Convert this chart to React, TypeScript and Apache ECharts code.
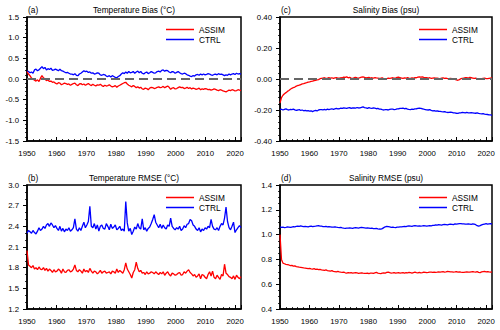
import { useEffect, useRef } from "react";
import * as echarts from "echarts";

const START_YEAR = 1950;
const END_YEAR = 2022;
const FONT = "'Liberation Sans', Arial, Helvetica, sans-serif";

const titles = ["Temperature Bias (°C)", "Temperature RMSE (°C)", "Salinity Bias (psu)", "Salinity RMSE (psu)"];
const panelTags = ["(a)", "(b)", "(c)", "(d)"];
const seriesNames = ["ASSIM", "CTRL"];

// half-yearly values, 1950 .. 2021
const tempBiasAssim = [
  0.18, 0.12, 0.08, 0.02, 0.0, -0.03, -0.05, -0.02, -0.06, 0.02, 0.08, 0.03, 0.0, -0.04, -0.02, -0.06, -0.05, -0.08, -0.07, -0.1,
  -0.12, -0.09, -0.1, -0.14, -0.12, -0.1, -0.11, -0.13, -0.12, -0.15, -0.13, -0.11, -0.1, -0.14, -0.16, -0.12, -0.11, -0.14, -0.12, -0.15,
  -0.13, -0.11, -0.14, -0.16, -0.13, -0.15, -0.17, -0.14, -0.15, -0.13, -0.16, -0.18, -0.15, -0.17, -0.16, -0.14, -0.17, -0.19, -0.18, -0.16,
  -0.2, -0.17, -0.15, -0.13, -0.11, -0.09, -0.08, -0.12, -0.15, -0.17, -0.19, -0.16, -0.18, -0.21, -0.19, -0.22, -0.2, -0.24, -0.25, -0.22,
  -0.23, -0.26, -0.22, -0.2, -0.21, -0.23, -0.22, -0.2, -0.19, -0.21, -0.2, -0.18, -0.21, -0.19, -0.17, -0.2, -0.25, -0.22, -0.21, -0.24,
  -0.23, -0.21, -0.19, -0.21, -0.2, -0.23, -0.22, -0.2, -0.23, -0.21, -0.24, -0.22, -0.23, -0.25, -0.24, -0.22, -0.26, -0.24, -0.25, -0.23,
  -0.24, -0.26, -0.25, -0.27, -0.26, -0.24, -0.25, -0.27, -0.28, -0.26, -0.27, -0.29, -0.3, -0.31, -0.29, -0.27, -0.28, -0.26, -0.27, -0.29,
  -0.28, -0.26, -0.27, -0.28,
];
const tempBiasCtrl = [
  0.2, 0.18, 0.15, 0.17, 0.14, 0.22, 0.24, 0.2, 0.22, 0.26, 0.3, 0.25, 0.28, 0.22, 0.25, 0.23, 0.26, 0.21, 0.22, 0.24,
  0.22, 0.2, 0.24, 0.2, 0.19, 0.17, 0.15, 0.16, 0.14, 0.12, 0.12, 0.1, 0.13, 0.09, 0.08, 0.12, 0.14, 0.17, 0.2, 0.18,
  0.19, 0.16, 0.17, 0.14, 0.15, 0.12, 0.13, 0.15, 0.14, 0.1, 0.09, 0.11, 0.1, 0.07, 0.06, 0.08, 0.05, 0.08, 0.06, 0.04,
  0.03, 0.06, 0.08, 0.12, 0.15, 0.13, 0.17, 0.14, 0.18, 0.15, 0.16, 0.18, 0.14, 0.17, 0.19, 0.15, 0.18, 0.14, 0.12, 0.15,
  0.17, 0.13, 0.15, 0.18, 0.16, 0.14, 0.15, 0.18, 0.19, 0.17, 0.21, 0.22, 0.19, 0.21, 0.2, 0.17, 0.15, 0.18, 0.17, 0.14,
  0.16, 0.18, 0.15, 0.13, 0.12, 0.14, 0.13, 0.1, 0.09, 0.07, 0.06, 0.08, 0.07, 0.1, 0.11, 0.09, 0.12, 0.1, 0.12, 0.1,
  0.11, 0.13, 0.12, 0.1, 0.09, 0.11, 0.12, 0.1, 0.13, 0.11, 0.12, 0.1, 0.08, 0.1, 0.09, 0.12, 0.1, 0.12, 0.13, 0.11,
  0.14, 0.12, 0.13, 0.12,
];
const tempRmseAssim = [
  2.05, 1.84, 1.82, 1.8, 1.83, 1.78, 1.8, 1.77, 1.81, 1.78, 1.77, 1.8, 1.76, 1.79, 1.75, 1.78, 1.76, 1.73, 1.77, 1.74,
  1.75, 1.78, 1.76, 1.72, 1.78, 1.74, 1.73, 1.76, 1.77, 1.74, 1.75, 1.78, 1.84, 1.76, 1.74, 1.77, 1.75, 1.72, 1.78, 1.74,
  1.76, 1.73, 1.79, 1.75, 1.72, 1.75, 1.74, 1.71, 1.73, 1.76, 1.72, 1.74, 1.75, 1.72, 1.73, 1.74, 1.71, 1.75, 1.74, 1.72,
  1.78, 1.73, 1.76, 1.74, 1.72, 1.77, 1.87, 1.78, 1.74, 1.7, 1.65, 1.73, 1.77, 1.88, 1.79, 1.74, 1.76, 1.72, 1.73, 1.7,
  1.74, 1.71, 1.72, 1.74, 1.73, 1.71, 1.74, 1.72, 1.7, 1.73, 1.71, 1.74, 1.69, 1.72, 1.74, 1.7, 1.68, 1.72, 1.71, 1.69,
  1.7, 1.72, 1.73, 1.69, 1.7, 1.74, 1.72, 1.75, 1.77, 1.73, 1.71, 1.68, 1.7, 1.66, 1.68, 1.71, 1.64, 1.7, 1.69, 1.66,
  1.64, 1.7, 1.74, 1.68, 1.75, 1.66, 1.64, 1.69, 1.66, 1.63, 1.7, 1.68, 1.85, 1.72, 1.7, 1.67, 1.66, 1.64, 1.68, 1.63,
  1.69, 1.66, 1.64, 1.67,
];
const tempRmseCtrl = [
  2.3, 2.34, 2.32, 2.3, 2.34, 2.31, 2.29, 2.33, 2.38, 2.34, 2.36, 2.4, 2.37, 2.42, 2.44, 2.4, 2.45, 2.42, 2.38, 2.41,
  2.37, 2.34, 2.4, 2.33, 2.37, 2.32, 2.36, 2.34, 2.38, 2.33, 2.35, 2.38, 2.51, 2.36, 2.33, 2.38, 2.34, 2.4, 2.46, 2.38,
  2.42, 2.47, 2.69, 2.4, 2.38, 2.44, 2.36, 2.42, 2.33, 2.4, 2.42, 2.37, 2.36, 2.44, 2.4, 2.35, 2.43, 2.37, 2.39, 2.42,
  2.35, 2.37, 2.4, 2.34, 2.36, 2.33, 2.76, 2.45, 2.33, 2.37, 2.28, 2.33, 2.39, 2.36, 2.44, 2.38, 2.36, 2.51, 2.35, 2.38,
  2.33, 2.37, 2.39, 2.44, 2.5, 2.57, 2.46, 2.42, 2.38, 2.43, 2.37, 2.42, 2.38, 2.36, 2.42, 2.4, 2.52, 2.4, 2.37, 2.35,
  2.38, 2.36, 2.4, 2.34, 2.36, 2.41, 2.38, 2.43, 2.44, 2.5, 2.48, 2.42, 2.4, 2.36, 2.34, 2.38, 2.32, 2.36, 2.34, 2.38,
  2.36, 2.4, 2.38, 2.5, 2.4, 2.36, 2.35, 2.38, 2.34, 2.4, 2.44, 2.42, 2.52, 2.68, 2.47, 2.38, 2.35, 2.4, 2.46, 2.31,
  2.35, 2.38, 2.41, 2.38,
];
const salBiasAssim = [
  -0.155, -0.12, -0.105, -0.095, -0.088, -0.08, -0.074, -0.066, -0.06, -0.055, -0.052, -0.046, -0.042, -0.04, -0.036, -0.032, -0.03, -0.026, -0.024, -0.02,
  -0.018, -0.015, -0.014, -0.01, -0.008, -0.006, -0.004, 0.002, 0.004, 0.006, 0.008, 0.004, 0.006, 0.009, 0.005, 0.008, 0.004, 0.007, 0.009, 0.006,
  0.005, 0.008, 0.007, 0.012, 0.01, 0.014, 0.008, 0.011, 0.006, 0.004, 0.008, 0.01, 0.007, 0.005, 0.009, 0.012, 0.013, 0.01, 0.007, 0.009,
  0.01, 0.006, 0.008, 0.005, 0.009, 0.007, 0.006, 0.004, 0.005, 0.008, 0.002, -0.002, 0.003, 0.005, 0.004, 0.006, 0.008, 0.005, 0.006, 0.01,
  0.012, 0.008, 0.006, 0.004, 0.007, 0.005, 0.009, 0.006, 0.004, 0.007, 0.005, 0.009, 0.008, 0.012, 0.014, 0.012, 0.013, 0.01, 0.009, 0.008,
  0.006, 0.008, 0.004, 0.006, 0.007, 0.005, 0.006, 0.004, 0.003, 0.005, 0.007, 0.004, 0.005, 0.003, 0.002, 0.004, 0.003, 0.0, -0.002, -0.006,
  -0.008, -0.004, 0.002, 0.004, 0.006, 0.008, 0.009, 0.006, 0.01, 0.008, 0.006, 0.004, 0.005, 0.002, 0.003, 0.0, 0.002, 0.004, 0.006, 0.003,
  0.002, 0.004, 0.006, 0.008,
];
const salBiasCtrl = [
  -0.198, -0.195, -0.2, -0.196, -0.193, -0.198, -0.2, -0.196, -0.197, -0.194, -0.199, -0.202, -0.2, -0.197, -0.203, -0.2, -0.205, -0.202, -0.206, -0.204,
  -0.208, -0.205, -0.21, -0.205, -0.203, -0.206, -0.2, -0.198, -0.197, -0.199, -0.196, -0.2, -0.194, -0.197, -0.195, -0.192, -0.196, -0.193, -0.19, -0.193,
  -0.192, -0.188, -0.19, -0.186, -0.188, -0.19, -0.187, -0.185, -0.19, -0.187, -0.186, -0.188, -0.184, -0.187, -0.186, -0.183, -0.18, -0.185, -0.187, -0.19,
  -0.185, -0.188, -0.19, -0.187, -0.188, -0.192, -0.19, -0.194, -0.195, -0.198, -0.2, -0.197, -0.198, -0.2, -0.196, -0.194, -0.195, -0.198, -0.196, -0.193,
  -0.192, -0.19, -0.19, -0.188, -0.192, -0.19, -0.194, -0.196, -0.197, -0.195, -0.196, -0.193, -0.192, -0.19, -0.188, -0.19, -0.192, -0.195, -0.197, -0.199,
  -0.2, -0.198, -0.202, -0.205, -0.204, -0.207, -0.206, -0.208, -0.209, -0.211, -0.212, -0.21, -0.214, -0.216, -0.215, -0.213, -0.216, -0.219, -0.218, -0.221,
  -0.222, -0.219, -0.218, -0.216, -0.217, -0.219, -0.216, -0.218, -0.219, -0.217, -0.218, -0.22, -0.221, -0.219, -0.222, -0.224, -0.225, -0.223, -0.226, -0.228,
  -0.229, -0.231, -0.232, -0.234,
];
const salRmseAssim = [
  1.0, 0.8, 0.77, 0.765, 0.76, 0.758, 0.755, 0.75, 0.752, 0.746, 0.748, 0.742, 0.74, 0.737, 0.735, 0.733, 0.731, 0.73, 0.728, 0.725,
  0.727, 0.724, 0.722, 0.725, 0.72, 0.722, 0.718, 0.72, 0.716, 0.714, 0.712, 0.715, 0.71, 0.708, 0.706, 0.709, 0.704, 0.702, 0.7, 0.703,
  0.699, 0.697, 0.696, 0.698, 0.692, 0.689, 0.694, 0.691, 0.693, 0.69, 0.692, 0.694, 0.691, 0.688, 0.69, 0.692, 0.689, 0.687, 0.688, 0.69,
  0.686, 0.689, 0.69, 0.688, 0.692, 0.695, 0.69, 0.687, 0.685, 0.689, 0.692, 0.69, 0.695, 0.698, 0.693, 0.69, 0.691, 0.694, 0.69, 0.692,
  0.693, 0.69, 0.692, 0.694, 0.69, 0.693, 0.692, 0.695, 0.693, 0.69, 0.694, 0.697, 0.693, 0.691, 0.695, 0.692, 0.694, 0.697, 0.696, 0.693,
  0.695, 0.698, 0.697, 0.695, 0.698, 0.696, 0.697, 0.699, 0.698, 0.7, 0.701, 0.698, 0.7, 0.703, 0.702, 0.699, 0.7, 0.698, 0.699, 0.701,
  0.698, 0.7, 0.697, 0.695, 0.696, 0.698, 0.699, 0.697, 0.698, 0.7, 0.701, 0.699, 0.698, 0.702, 0.696, 0.694, 0.699, 0.701, 0.703, 0.7,
  0.702, 0.699, 0.697, 0.7,
];
const salRmseCtrl = [
  1.062, 1.058, 1.06, 1.057, 1.059, 1.062, 1.06, 1.058, 1.061, 1.064, 1.063, 1.066, 1.068, 1.066, 1.07, 1.067, 1.064, 1.066, 1.065, 1.062,
  1.066, 1.068, 1.065, 1.067, 1.068, 1.07, 1.072, 1.069, 1.068, 1.065, 1.064, 1.066, 1.062, 1.065, 1.063, 1.06, 1.061, 1.063, 1.06, 1.058,
  1.057, 1.059, 1.055, 1.052, 1.05, 1.053, 1.052, 1.055, 1.053, 1.051, 1.054, 1.056, 1.055, 1.053, 1.056, 1.058, 1.056, 1.054, 1.052, 1.055,
  1.053, 1.05, 1.052, 1.049, 1.048, 1.05, 1.047, 1.045, 1.044, 1.048, 1.056, 1.063, 1.066, 1.064, 1.062, 1.059, 1.06, 1.058, 1.057, 1.06,
  1.061, 1.063, 1.063, 1.065, 1.066, 1.064, 1.068, 1.07, 1.069, 1.067, 1.07, 1.072, 1.07, 1.068, 1.071, 1.069, 1.07, 1.072, 1.071, 1.068,
  1.07, 1.072, 1.071, 1.074, 1.075, 1.078, 1.077, 1.08, 1.079, 1.077, 1.08, 1.082, 1.081, 1.079, 1.082, 1.084, 1.083, 1.081, 1.086, 1.084,
  1.087, 1.089, 1.088, 1.086, 1.087, 1.085, 1.084, 1.086, 1.085, 1.083, 1.086, 1.084, 1.08, 1.072, 1.068, 1.072, 1.078, 1.082, 1.085, 1.088,
  1.084, 1.087, 1.089, 1.085,
];

const toPairs = (vals: number[]) => {
  const step = (END_YEAR - START_YEAR) / (vals.length - 1);
  return vals.map((v, i) => [START_YEAR + i * step, v]);
};

const panels = [
  { title: titles[0], tag: panelTags[0], assim: tempBiasAssim, ctrl: tempBiasCtrl, min: -1.5, max: 1.5, interval: 0.5, digits: 1, minor: 5, zero: true,
    left: 27, top: 17, width: 214, height: 124 },
  { title: titles[2], tag: panelTags[2], assim: salBiasAssim, ctrl: salBiasCtrl, min: -0.4, max: 0.4, interval: 0.2, digits: 2, minor: 5, zero: true,
    left: 280, top: 17, width: 212, height: 124 },
  { title: titles[1], tag: panelTags[1], assim: tempRmseAssim, ctrl: tempRmseCtrl, min: 1.2, max: 3.0, interval: 0.3, digits: 1, minor: 3, zero: false,
    left: 27, top: 185, width: 214, height: 124 },
  { title: titles[3], tag: panelTags[3], assim: salRmseAssim, ctrl: salRmseCtrl, min: 0.4, max: 1.4, interval: 0.2, digits: 1, minor: 4, zero: false,
    left: 280, top: 185, width: 212, height: 124 },
];

const buildOption = () => {
  const grid = panels.map((p) => ({
    left: p.left, top: p.top, width: p.width, height: p.height,
    show: true, borderColor: "#000", borderWidth: 1.5, backgroundColor: "transparent",
  }));
  const xAxis = panels.map((_, i) => ({
    type: "value", gridIndex: i, min: START_YEAR, max: END_YEAR, interval: 10,
    axisLine: { show: true, onZero: false, lineStyle: { color: "#000", width: 1.5 } },
    axisTick: { show: true, inside: true, length: 4, lineStyle: { color: "#000", width: 1 } },
    minorTick: { show: true, splitNumber: 5, length: 2, lineStyle: { color: "#000", width: 0.8 } },
    axisLabel: {
      fontSize: 7.8, color: "#000", margin: 8, fontFamily: FONT, showMaxLabel: false, showMinLabel: true,
      formatter: (v: number) => String(Math.round(v)),
    },
    splitLine: { show: false },
  }));
  const yAxis = panels.map((p, i) => ({
    type: "value", gridIndex: i, min: p.min, max: p.max, interval: p.interval,
    axisLine: { show: true, onZero: false, lineStyle: { color: "#000", width: 1.5 } },
    axisTick: { show: true, inside: false, length: 4, lineStyle: { color: "#000", width: 1 } },
    minorTick: { show: true, splitNumber: p.minor, length: 2, lineStyle: { color: "#000", width: 0.8 } },
    axisLabel: {
      fontSize: 7.8, color: "#000", margin: 8, fontFamily: FONT,
      formatter: (v: number) => (Math.abs(v) < 1e-9 ? 0 : v).toFixed(p.digits),
    },
    splitLine: { show: false },
  }));
  const series: any[] = [];
  panels.forEach((p, i) => {
    series.push({
      name: seriesNames[1], type: "line", xAxisIndex: i, yAxisIndex: i, data: toPairs(p.ctrl),
      symbol: "none", lineStyle: { color: "#0000ff", width: 1.3 }, itemStyle: { color: "#0000ff" },
    });
    series.push({
      name: seriesNames[0], type: "line", xAxisIndex: i, yAxisIndex: i, data: toPairs(p.assim),
      symbol: "none", lineStyle: { color: "#ff0000", width: 1.3 }, itemStyle: { color: "#ff0000" },
      markLine: p.zero
        ? {
            silent: true, symbol: ["none", "none"], label: { show: false },
            lineStyle: { color: "#666", type: [9, 5], width: 2 },
            data: [{ yAxis: 0 }],
          }
        : undefined,
    });
  });
  const legend = panels.map((p) => ({
    left: p.left + 134, top: p.top + 3, orient: "vertical", itemWidth: 28, itemHeight: 1.5, itemGap: 1,
    icon: "rect",
    data: seriesNames, selectedMode: false,
    textStyle: { fontSize: 8.3, color: "#000", fontFamily: FONT, lineHeight: 9 },
  }));
  const graphic: any[] = [];
  panels.forEach((p) => {
    graphic.push({
      type: "text", x: p.left + p.width / 2, y: p.top - 7,
      style: { text: p.title, fontSize: 8.3, fontFamily: FONT, fill: "#000", textAlign: "center", textVerticalAlign: "middle" },
    });
    graphic.push({
      type: "text", x: p.left + 1, y: p.top - 7,
      style: { text: p.tag, fontSize: 8.3, fontFamily: FONT, fill: "#000", textAlign: "left", textVerticalAlign: "middle" },
    });
  });
  return { animation: false, backgroundColor: "#fff", grid, xAxis, yAxis, series, legend, graphic };
};

export default function App() {
  const ref = useRef<HTMLDivElement>(null);
  useEffect(() => {
    if (!ref.current) return;
    const chart = echarts.init(ref.current, null, { renderer: "svg" });
    chart.setOption(buildOption() as any);
    return () => chart.dispose();
  }, []);
  return (
    <div
      ref={ref}
      style={{ position: "fixed", left: 0, top: 0, width: 500, height: 330, background: "#fff" }}
    />
  );
}
